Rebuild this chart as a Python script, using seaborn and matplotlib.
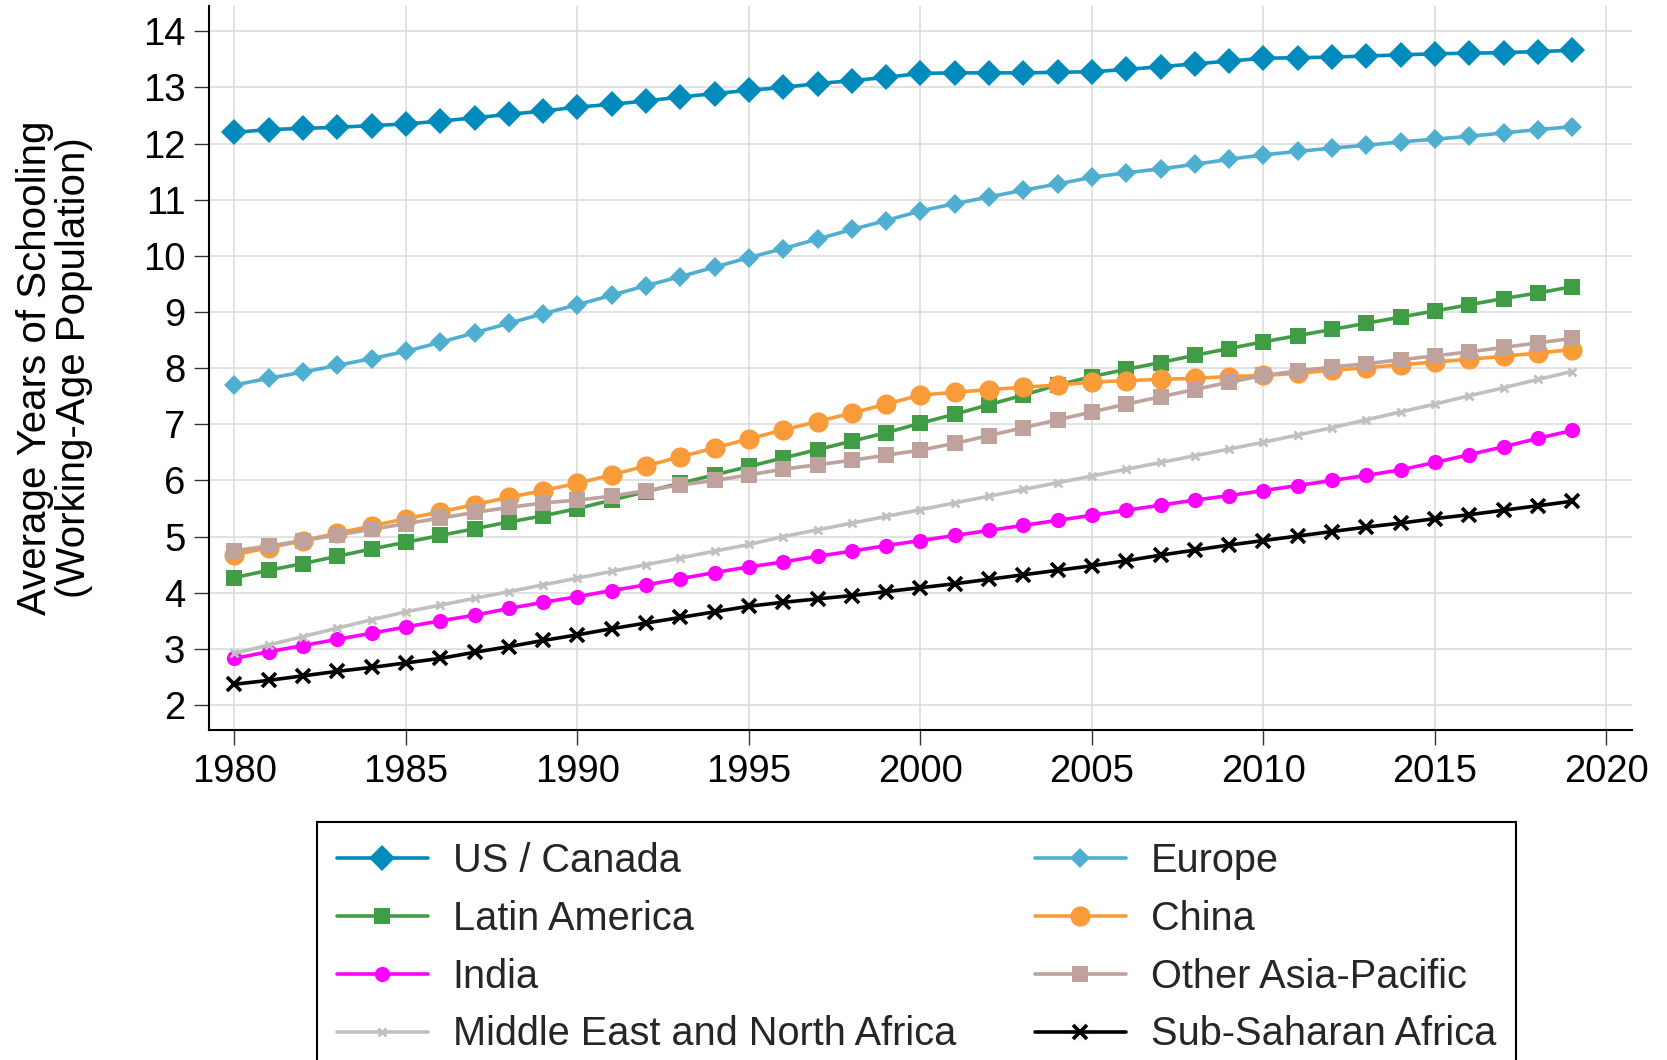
import numpy as np
import pandas as pd
import matplotlib
matplotlib.use("Agg")
import matplotlib.pyplot as plt
import seaborn as sns

# Data
years = list(range(1980, 2020))

us_canada = [12.20, 12.25, 12.27, 12.29, 12.32, 12.35, 12.40, 12.46, 12.52, 12.58,
             12.65, 12.70, 12.76, 12.83, 12.89, 12.95, 13.00, 13.07, 13.12, 13.18,
             13.25, 13.26, 13.26, 13.26, 13.27, 13.28, 13.32, 13.37, 13.42, 13.47,
             13.52, 13.53, 13.54, 13.56, 13.58, 13.60, 13.61, 13.62, 13.64, 13.66]
europe = [7.70, 7.82, 7.93, 8.05, 8.17, 8.30, 8.46, 8.63, 8.80, 8.97,
          9.13, 9.30, 9.47, 9.63, 9.80, 9.97, 10.13, 10.30, 10.47, 10.63,
          10.80, 10.93, 11.05, 11.17, 11.28, 11.40, 11.48, 11.55, 11.63, 11.72,
          11.80, 11.86, 11.92, 11.97, 12.03, 12.08, 12.13, 12.19, 12.25, 12.30]
latin_america = [4.27, 4.40, 4.52, 4.65, 4.78, 4.90, 5.02, 5.14, 5.26, 5.37,
                 5.50, 5.65, 5.80, 5.95, 6.10, 6.25, 6.40, 6.55, 6.70, 6.85,
                 7.02, 7.18, 7.35, 7.52, 7.70, 7.85, 7.98, 8.10, 8.23, 8.35,
                 8.47, 8.58, 8.69, 8.80, 8.91, 9.02, 9.13, 9.24, 9.34, 9.45]
china = [4.68, 4.80, 4.93, 5.06, 5.19, 5.32, 5.44, 5.57, 5.70, 5.82,
         5.95, 6.10, 6.26, 6.42, 6.58, 6.74, 6.90, 7.05, 7.20, 7.36,
         7.52, 7.57, 7.62, 7.66, 7.70, 7.75, 7.78, 7.80, 7.82, 7.85,
         7.87, 7.91, 7.96, 8.01, 8.06, 8.11, 8.16, 8.21, 8.27, 8.33]
india = [2.83, 2.95, 3.06, 3.17, 3.28, 3.39, 3.50, 3.60, 3.72, 3.83,
         3.93, 4.04, 4.14, 4.25, 4.36, 4.46, 4.55, 4.65, 4.74, 4.84,
         4.93, 5.02, 5.11, 5.20, 5.29, 5.38, 5.47, 5.56, 5.65, 5.73,
         5.82, 5.91, 6.00, 6.09, 6.19, 6.32, 6.46, 6.60, 6.75, 6.89]
other_asia = [4.75, 4.83, 4.93, 5.03, 5.13, 5.23, 5.33, 5.43, 5.52, 5.60,
              5.65, 5.72, 5.82, 5.92, 6.00, 6.10, 6.20, 6.28, 6.36, 6.45,
              6.54, 6.66, 6.80, 6.94, 7.08, 7.22, 7.36, 7.49, 7.62, 7.75,
              7.87, 7.95, 8.02, 8.08, 8.15, 8.22, 8.29, 8.37, 8.45, 8.53]
mena = [2.92, 3.07, 3.22, 3.37, 3.52, 3.66, 3.78, 3.90, 4.02, 4.14,
        4.26, 4.38, 4.50, 4.62, 4.74, 4.86, 5.00, 5.12, 5.24, 5.36,
        5.48, 5.60, 5.72, 5.84, 5.96, 6.08, 6.20, 6.32, 6.44, 6.56,
        6.68, 6.81, 6.94, 7.08, 7.22, 7.36, 7.51, 7.65, 7.80, 7.94]
ssa = [2.37, 2.44, 2.52, 2.60, 2.67, 2.75, 2.83, 2.94, 3.04, 3.15,
       3.25, 3.36, 3.46, 3.56, 3.66, 3.76, 3.83, 3.89, 3.95, 4.02,
       4.09, 4.16, 4.24, 4.32, 4.40, 4.48, 4.57, 4.67, 4.76, 4.85,
       4.93, 5.01, 5.09, 5.17, 5.24, 5.32, 5.39, 5.47, 5.55, 5.63]

regions = ['US / Canada', 'Europe', 'Latin America', 'China',
           'India', 'Other Asia-Pacific', 'Middle East and North Africa', 'Sub-Saharan Africa']
values = [us_canada, europe, latin_america, china, india, other_asia, mena, ssa]

x_ticks = [1980, 1985, 1990, 1995, 2000, 2005, 2010, 2015, 2020]
y_ticks = list(range(2, 15))

# Styling per series
colors = ['#008BBC', '#4FAFD1', '#409C45', '#FA9B3A', '#FF00FF', '#BEA29B', '#C0C0C0', '#000000']
markers = ['D', 'D', 's', 'o', 'o', 's', 'x', 'x']
msizes = [13.7, 10.2, 11.5, 14.5, 11.0, 11.5, 6.0, 9.5]
mew = [0, 0, 0, 0, 0, 0, 2.0, 2.6]

# long-form table
df = pd.DataFrame({'Year': np.tile(years, len(regions)),
                   'Region': np.repeat(regions, len(years)),
                   'Schooling': np.concatenate(values)})

sns.set_theme(style='white')
plt.rcParams['font.family'] = ['Liberation Sans', 'DejaVu Sans']

fig = plt.figure(figsize=(16.67, 10.6), dpi=100)
ax = fig.add_axes([0.1254, 0.3113, 0.8535, 0.683])

handles = []
for i, region in enumerate(regions):
    sub = df[df['Region'] == region]
    sns.lineplot(data=sub, x='Year', y='Schooling', ax=ax, color=colors[i],
                 marker=markers[i], markersize=msizes[i], linewidth=2.6,
                 markeredgecolor=colors[i], markeredgewidth=mew[i],
                 label=region, legend=False)
    handles.append(ax.lines[-1])

ax.set_xlim(1979.26, 2020.74)
ax.set_ylim(1.555, 14.45)
ax.set_xticks(x_ticks)
ax.set_yticks(y_ticks)
ax.grid(True, color='#DADADA', linewidth=1.1)
ax.set_axisbelow(True)

for s in ['top', 'right']:
    ax.spines[s].set_visible(False)
for s in ['left', 'bottom']:
    ax.spines[s].set_color('black')
    ax.spines[s].set_linewidth(1.5)

ax.tick_params(axis='both', direction='out', length=11, width=1.0, color='#333333',
               labelsize=27.5, labelcolor='black', pad=6, left=True, bottom=True)

ax.set_xlabel('')
ax.set_ylabel('Average Years of Schooling\n(Working-Age Population)', fontsize=29,
              color='black', linespacing=1.05)
ax.yaxis.set_label_coords(-0.0815, 0.5)

# legend reads row-wise, matplotlib fills columns first
order = [0, 2, 4, 6, 1, 3, 5, 7]
leg = fig.legend([handles[k] for k in order], [regions[k] for k in order],
                 loc='upper left', bbox_to_anchor=(317 / 1667, 1 - 822 / 1060),
                 borderaxespad=0, ncol=2, fontsize=28.6, frameon=True, fancybox=False,
                 framealpha=1, edgecolor='black', handlelength=2.29, handletextpad=0.63,
                 borderpad=0.5, labelspacing=0.5, columnspacing=1.98)
leg.get_frame().set_linewidth(1.5)

fig.savefig('out.png', dpi=100)
